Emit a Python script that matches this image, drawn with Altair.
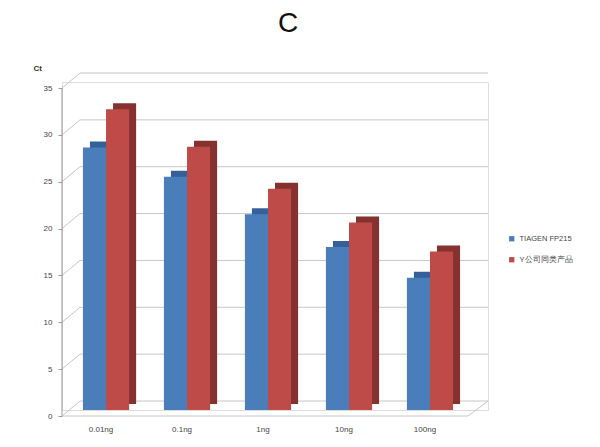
import altair as alt
import pandas as pd

categories = ["0.01ng", "0.1ng", "1ng", "10ng", "100ng"]
series = ["TIAGEN FP215", "Y公司同类产品"]
tiagen = [28.0, 24.9, 20.9, 17.4, 14.1]
ycomp = [32.1, 28.1, 23.6, 20.0, 16.9]
yticks = [0, 5, 10, 15, 20, 25, 30, 35]

front_colors = ["#4A7EBB", "#BE4B48"]
side_colors = ["#35609A", "#84312F"]

rows = []
for c, a, b in zip(categories, tiagen, ycomp):
    rows.append({"cat": c, "series": series[0], "ct": a})
    rows.append({"cat": c, "series": series[1], "ct": b})
df = pd.DataFrame(rows)
ticks_df = pd.DataFrame({"v": yticks})

W, H = 426, 328
PI, PO = 0.43, 0.345
STEP = W / (len(categories) - PI + 2 * PO)
BW = STEP * (1 - PI)
DEPTH_X, DEPTH_Y = 7, 6

xscale = alt.Scale(domain=categories, paddingInner=PI, paddingOuter=PO, align=0.375)
yscale = alt.Scale(domain=[0, 35], nice=False)
FONT = "Liberation Sans"

yaxis = alt.Axis(values=yticks, domain=False, grid=False, tickSize=4,
                 tickColor="#9a9a9a", tickOffset=6, labelPadding=6,
                 labelFontSize=8, labelColor="#444444", labelFont=FONT,
                 title="Ct", titleAngle=0, titleX=-29, titleY=-10,
                 titleAlign="left", titleFontSize=8, titleFont=FONT,
                 titleFontWeight="bold", titleColor="#333333")
xaxis = alt.Axis(title=None, domain=False, ticks=False, labelAngle=0,
                 labelPadding=15, labelOffset=-5, labelFontSize=8,
                 labelColor="#444444", labelFont=FONT)

# back-wall gridlines
grid = alt.Chart(ticks_df).mark_rule(color="#c6c6c6", strokeWidth=1, yOffset=-9).encode(
    x=alt.value(18), x2=alt.value(W),
    y=alt.Y("v:Q", scale=yscale, axis=yaxis),
)
# side-wall slanted lines
wall = alt.Chart(ticks_df).mark_rule(color="#c6c6c6", strokeWidth=1, yOffset=6, y2Offset=-9).encode(
    x=alt.value(0), x2=alt.value(18),
    y=alt.Y("v:Q", scale=yscale, axis=yaxis), y2="v:Q",
)
# left axis line
axis_line = alt.Chart(ticks_df).mark_rule(color="#9a9a9a", yOffset=6, y2Offset=6).encode(
    x=alt.value(0),
    y=alt.Y("min(v):Q", scale=yscale, axis=yaxis), y2="max(v)",
)
# floor front edge and right slant
floor_front = alt.Chart(ticks_df).transform_filter("datum.v == 0").mark_rule(
    color="#c6c6c6", yOffset=6).encode(
    x=alt.value(0), x2=alt.value(406),
    y=alt.Y("v:Q", scale=yscale, axis=yaxis),
)
floor_right = alt.Chart(ticks_df).transform_filter("datum.v == 0").mark_rule(
    color="#c6c6c6", yOffset=6, y2Offset=-9).encode(
    x=alt.value(406), x2=alt.value(W),
    y=alt.Y("v:Q", scale=yscale, axis=yaxis), y2="v:Q",
)

side_layers = []
for s, col in zip(series, side_colors):
    side_layers.append(
        alt.Chart(df).transform_filter(alt.datum.series == s).mark_bar(
            color=col, yOffset=-DEPTH_Y, y2Offset=-DEPTH_Y
        ).encode(
            x=alt.X("cat:N", scale=xscale, sort=categories, axis=xaxis),
            y=alt.Y("ct:Q", scale=yscale, axis=yaxis),
            xOffset=alt.XOffset("series:N", scale=alt.Scale(
                domain=series, paddingInner=0, paddingOuter=0,
                range=[DEPTH_X, DEPTH_X + BW])),
        )
    )
side = alt.layer(*side_layers)

front = alt.Chart(df).mark_bar().encode(
    x=alt.X("cat:N", scale=xscale, sort=categories, axis=xaxis),
    y=alt.Y("ct:Q", scale=yscale, axis=yaxis),
    xOffset=alt.XOffset("series:N", scale=alt.Scale(domain=series, paddingInner=0, paddingOuter=0)),
    color=alt.Color("series:N", scale=alt.Scale(domain=series, range=front_colors),
                    legend=alt.Legend(title=None, orient="none", legendX=446, legendY=153,
                                      symbolType="square", symbolSize=28, symbolStrokeWidth=0,
                                      labelFontSize=7.5, labelFont=FONT, labelColor="#444444",
                                      rowPadding=12, labelLimit=300)),
)

chart = alt.layer(grid, wall, axis_line, floor_front, floor_right, side, front).resolve_scale(
    xOffset="independent"
).properties(
    width=W, height=H,
    title=alt.TitleParams("C", font=FONT, fontSize=28, fontWeight="normal", color="#111111",
                          anchor="middle", dx=13, offset=26),
    autosize=alt.AutoSizeParams(type="none"),
    padding={"left": 54, "top": 74, "right": 104, "bottom": 30},
).configure_view(stroke=None).configure(background="white")

chart.save("out.html", embed_options={"renderer": "svg", "actions": False})
